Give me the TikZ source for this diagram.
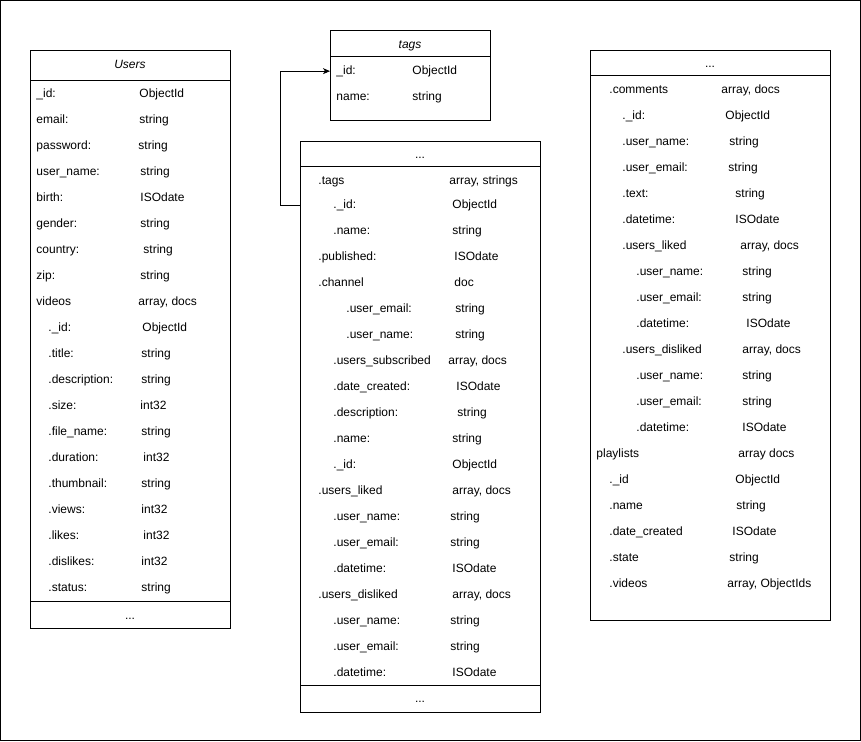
\documentclass[tikz,border=0pt]{standalone}
\usepackage{fontspec}
\setmainfont{Liberation Sans}
\usetikzlibrary{arrows.meta}

\tikzset{
  tbl/.style={draw, rectangle, anchor=north west, inner sep=0pt, line width=0.9pt},
  fld/.style={anchor=base west, yshift=-4.3pt, inner sep=0pt, font=\fontsize{12}{14}\selectfont},
  ttl/.style={anchor=base, yshift=-4.3pt, inner sep=0pt, font=\fontsize{12}{14}\selectfont\itshape},
  dots/.style={anchor=base, yshift=-4.3pt, inner sep=0pt, font=\fontsize{12}{14}\selectfont}
}

\begin{document}
\begin{tikzpicture}[x=1pt, y=-1pt, line width=0.9pt]
\useasboundingbox (0,0) rectangle (861,741);
\draw (0.5,0.5) rectangle (860,740);

% Users collection
\node[tbl, minimum width=200pt, minimum height=578pt] (users) at (30,50) {};
\draw (30,80) -- (230,80);
\draw (30,601) -- (230,601);
\node[ttl] (usersttl) at (130,64) {Users};
\node[dots] (usersend) at (130,615) {...};
\foreach \x/\y/\lab/\v/\val [count=\i] in {
  36/93/\_id:/139/ObjectId, 36/119/email:/139/string,
  36/145/password:/138/string, 36/171/user\_name:/140/string,
  36/197/birth:/140/ISOdate, 36/223/gender:/140/string,
  36/249/country:/143/string, 36/275/zip:/140/string,
  36/301/videos/138/{array, docs}, 48/327/.\_id:/142/ObjectId,
  48/353/.title:/141/string, 48/379/.description:/141/string,
  48/405/.size:/140/int32, 48/431/.file\_name:/141/string,
  48/457/.duration:/143/int32, 48/483/.thumbnail:/141/string,
  48/509/.views:/141/int32, 48/535/.likes:/143/int32,
  48/561/.dislikes:/141/int32, 48/587/.status:/141/string}
{
  \node[fld] (u\i) at (\x,\y) {\lab};
  \node[fld] (uv\i) at (\v,\y) {\val};
}

% tags collection
\node[tbl, minimum width=160pt, minimum height=90pt] (tags) at (330,30) {};
\draw (330,56) -- (490,56);
\node[ttl] (tagsttl) at (410,44) {tags};
\node[fld] (t1) at (336,70) {\_id:};
\node[fld] (tv1) at (412,70) {ObjectId};
\node[fld] (t2) at (336,96) {name:};
\node[fld] (tv2) at (412,96) {string};

% videos (middle)
\node[tbl, minimum width=240pt, minimum height=571pt] (mid) at (300,141) {};
\draw (300,166) -- (540,166);
\draw (300,685) -- (540,685);
\node[dots] (midttl) at (420,154) {...};
\node[dots] (midend) at (420,698) {...};
\foreach \x/\y/\lab/\v/\val [count=\i] in {
  318/180/.tags/449/{array, strings}, 333/204/.\_id:/452/ObjectId,
  333/230/.name:/452/string, 318/256/.published:/454/ISOdate,
  318/282/.channel/454/doc, 346/308/.user\_email:/455/string,
  346/334/.user\_name:/455/string, 333/360/.users\_subscribed/448/{array, docs},
  333/386/.date\_created:/456/ISOdate, 333/412/.description:/457/string,
  333/438/.name:/452/string, 333/464/.\_id:/452/ObjectId,
  318/490/.users\_liked/452/{array, docs}, 333/516/.user\_name:/450/string,
  333/542/.user\_email:/450/string, 333/568/.datetime:/452/ISOdate,
  318/594/.users\_disliked/452/{array, docs}, 333/620/.user\_name:/450/string,
  333/646/.user\_email:/450/string, 333/672/.datetime:/452/ISOdate}
{
  \node[fld] (m\i) at (\x,\y) {\lab};
  \node[fld] (mv\i) at (\v,\y) {\val};
}

% right part
\node[tbl, minimum width=240pt, minimum height=570pt] (rgt) at (590,50) {};
\draw (590,75) -- (830,75);
\node[dots] (rgtttl) at (710,63) {...};
\foreach \x/\y/\lab/\v/\val [count=\i] in {
  609/89/.comments/721/{array, docs}, 622/115/.\_id:/725/ObjectId,
  622/141/.user\_name:/729/string, 622/167/.user\_email:/728/string,
  622/193/.text:/735/string, 622/219/.datetime:/735/ISOdate,
  622/245/.users\_liked/740/{array, docs}, 636/271/.user\_name:/742/string,
  636/297/.user\_email:/742/string, 636/323/.datetime:/746/ISOdate,
  622/349/.users\_disliked/742/{array, docs}, 636/375/.user\_name:/742/string,
  636/401/.user\_email:/742/string, 636/427/.datetime:/742/ISOdate,
  596/453/playlists/738/array docs, 609/479/.\_id/735/ObjectId,
  609/505/.name/736/string, 609/531/.date\_created/732/ISOdate,
  609/557/.state/729/string, 609/583/.videos/727/{array, ObjectIds}}
{
  \node[fld] (r\i) at (\x,\y) {\lab};
  \node[fld] (rv\i) at (\v,\y) {\val};
}

% reference to tags
\draw[-{Stealth[length=7pt, width=6pt, inset=2pt]}] (mid.west |- m2) -- ++(-20,0) |- (tags.west |- t1);

\end{tikzpicture}
\end{document}
